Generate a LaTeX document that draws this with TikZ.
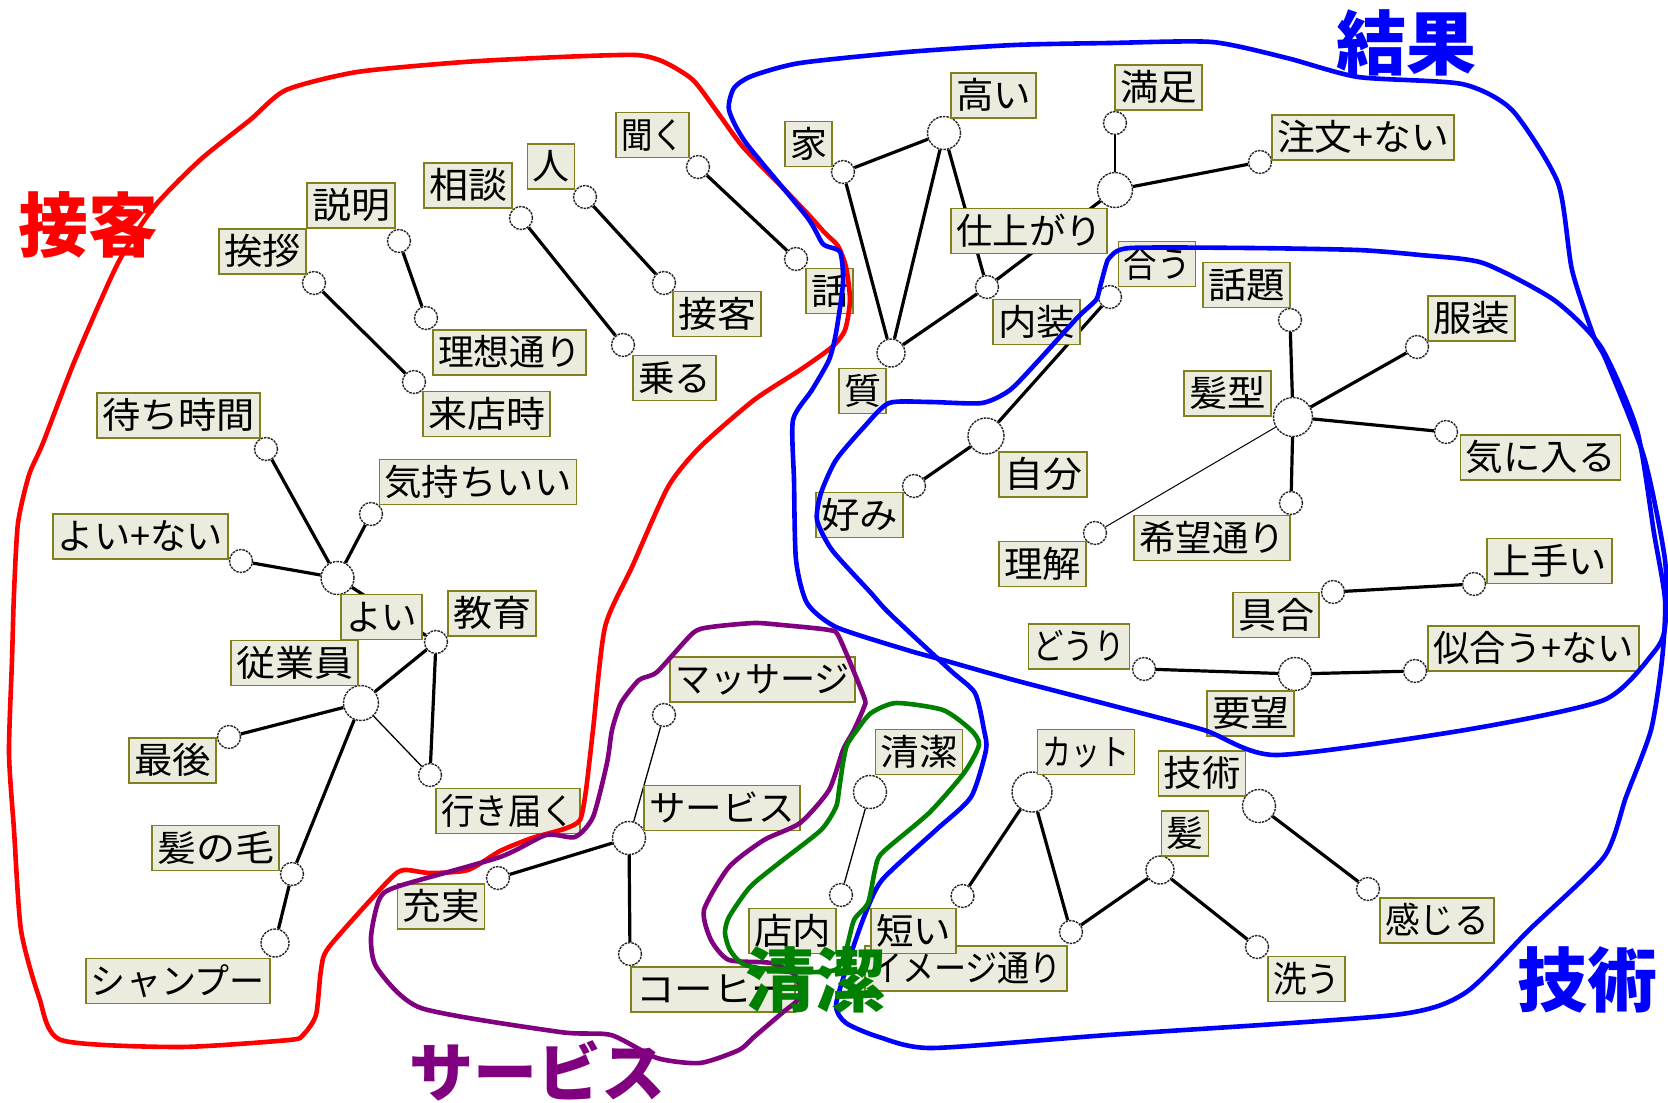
\documentclass[tikz,border=0pt]{standalone}
\usepackage{fontspec}
\usepackage{graphicx}
\newfontfamily\cjk{Noto Sans CJK JP}
\definecolor{labfill}{RGB}{236,236,222}
\definecolor{labborder}{RGB}{128,128,32}
\definecolor{regred}{RGB}{255,0,0}
\definecolor{regblue}{RGB}{0,0,255}
\definecolor{regpurple}{RGB}{128,0,128}
\definecolor{reggreen}{RGB}{0,128,0}
\newcommand\ft[2]{\resizebox{#1pt}{\height}{#2}}
\tikzset{
  lab/.style={draw=labborder, fill=labfill, line width=1.8pt, inner xsep=5pt, inner ysep=4.5pt,
    text height=31pt, text depth=5pt, font=\cjk\fontsize{36}{36}\selectfont},
  sn/.style={circle, draw=black!85, fill=white, line width=1.4pt, dash pattern=on 2.5pt off 1pt,
    minimum size=23pt, inner sep=0pt},
  hub/.style={sn, minimum size=#1},
  ed/.style={line width=3.2pt, black},
  thinedge/.style={line width=1.3pt, black},
  region/.style={line width=4.6pt, line join=round},
  big/.style={font=\cjk\bfseries\fontsize{70}{70}\selectfont, inner sep=0pt},
}
\begin{document}
\begin{tikzpicture}[x=1pt, y=-1pt]
\useasboundingbox (0,0) rectangle (1668,1103);
\fill[white] (0,0) rectangle (1668,1103);

% ---------- circles ----------
\node[sn] (cSetsumei) at (399,241) {};
\node[sn] (cRisou) at (426,318) {};
\node[sn] (cAisatsu) at (314,283) {};
\node[sn] (cRaiten) at (414,382) {};
\node[sn] (cSoudan) at (521,218) {};
\node[sn] (cNoru) at (623,345) {};
\node[sn] (cHito) at (585,197) {};
\node[sn] (cSekkyaku) at (664,283) {};
\node[sn] (cKiku) at (698,167) {};
\node[sn] (cHanashi) at (796,259) {};
\node[sn] (cIe) at (843,172) {};
\node[sn] (cNaisou) at (987,287) {};
\node[sn] (cManzoku) at (1115,123) {};
\node[sn] (cChuumon) at (1260,162) {};
\node[sn] (cAu) at (1110,297) {};
\node[sn] (cKonomi) at (914,486) {};
\node[sn] (cWadai) at (1290,320) {};
\node[sn] (cFukusou) at (1417,347) {};
\node[sn] (cKiniiru) at (1446,432) {};
\node[sn] (cKibou) at (1291,503) {};
\node[sn] (cRikai) at (1095,533) {};
\node[sn] (cGuai) at (1333,592) {};
\node[sn] (cJouzu) at (1474,584) {};
\node[sn] (cDouri) at (1144,669) {};
\node[sn] (cNiau) at (1415,671) {};
\node[sn] (cMachi) at (266,449) {};
\node[sn] (cKimochi) at (371,514) {};
\node[sn] (cYoinai) at (241,561) {};
\node[sn] (cKyouiku) at (436,642) {};
\node[sn] (cSaigo) at (229,737) {};
\node[sn] (cIkitodoku) at (430,775) {};
\node[sn] (cKaminoke) at (292,874) {};
\node[sn] (cJuujitsu) at (498,878) {};
\node[sn] (cMassage) at (664,715) {};
\node[sn] (cCoffee) at (630,954) {};
\node[sn] (cTennai) at (841,895) {};
\node[sn] (cMijikai) at (962.5,896) {};
\node[sn] (cImage) at (1071,932) {};
\node[sn] (cKanjiru) at (1368,889) {};
\node[sn] (cArau) at (1257,947) {};

\node[hub=33pt] (hTakai) at (944,133) {};
\node[hub=28pt] (hShitsu) at (891,353) {};
\node[hub=35pt] (hShiagari) at (1115,190) {};
\node[hub=36pt] (hJibun) at (986,436) {};
\node[hub=39pt] (hKamigata) at (1293,417) {};
\node[hub=33pt] (hYoubou) at (1295,674) {};
\node[hub=33pt] (hYoi) at (337.5,578) {};
\node[hub=35pt] (hJuugyouin) at (361,703) {};
\node[hub=28pt] (hShampoo) at (275,943) {};
\node[hub=33pt] (hService) at (629,838) {};
\node[hub=33pt] (hSeiketsu) at (870,792) {};
\node[hub=40pt] (hCut) at (1032,792) {};
\node[hub=33pt] (hGijutsu) at (1259,806) {};
\node[hub=28pt] (hKami) at (1160,870) {};

% ---------- edges ----------
\draw[ed] (cSetsumei) -- (cRisou);
\draw[ed] (cAisatsu) -- (cRaiten);
\draw[ed] (cSoudan) -- (cNoru);
\draw[ed] (cHito) -- (cSekkyaku);
\draw[ed] (cKiku) -- (cHanashi);
\draw[ed] (cIe) -- (hTakai);
\draw[ed] (cIe) -- (hShitsu);
\draw[ed] (hTakai) -- (hShitsu);
\draw[ed] (hTakai) -- (cNaisou);
\draw[ed] (hShitsu) -- (cNaisou);
\draw[ed] (cNaisou) -- (hShiagari);
\draw[thinedge] (cManzoku) -- (hShiagari);
\draw[ed] (hShiagari) -- (cChuumon);
\draw[ed] (cAu) -- (hJibun);
\draw[ed] (hJibun) -- (cKonomi);
\draw[ed] (cWadai) -- (hKamigata);
\draw[ed] (hKamigata) -- (cFukusou);
\draw[ed] (hKamigata) -- (cKiniiru);
\draw[ed] (hKamigata) -- (cKibou);
\draw[thinedge, line width=1pt] (hKamigata) -- (cRikai);
\draw[ed] (cGuai) -- (cJouzu);
\draw[ed] (cDouri) -- (hYoubou);
\draw[ed] (hYoubou) -- (cNiau);
\draw[ed] (cMachi) -- (hYoi);
\draw[ed] (cKimochi) -- (hYoi);
\draw[ed] (cYoinai) -- (hYoi);
\draw[ed] (hYoi) -- (cKyouiku);
\draw[ed] (cKyouiku) -- (hJuugyouin);
\draw[ed] (cKyouiku) -- (cIkitodoku);
\draw[thinedge] (hJuugyouin) -- (cIkitodoku);
\draw[ed] (cSaigo) -- (hJuugyouin);
\draw[ed] (hJuugyouin) -- (cKaminoke);
\draw[ed] (cKaminoke) -- (hShampoo);
\draw[ed] (cJuujitsu) -- (hService);
\draw[thinedge] (cMassage) -- (hService);
\draw[ed] (hService) -- (cCoffee);
\draw[thinedge] (hSeiketsu) -- (cTennai);
\draw[ed] (hCut) -- (cMijikai);
\draw[ed] (hCut) -- (cImage);
\draw[ed] (cImage) -- (hKami);
\draw[ed] (hKami) -- (cArau);
\draw[ed] (hGijutsu) -- (cKanjiru);

% ---------- labels ----------
\node[lab] (lSetsumei) at (351,205.5) {\ft{78}{説明}};
\node[lab] (lAisatsu) at (262.5,251.5) {\ft{77}{挨拶}};
\node[lab] (lSoudan) at (468,185.5) {\ft{78}{相談}};
\node[lab] (lHito) at (551,166.5) {\ft{37}{人}};
\node[lab] (lKiku) at (652.5,135) {\ft{63}{聞く}};
\node[lab] (lHanashi) at (829.5,291) {\ft{37}{話}};
\node[lab] (lSekkyaku) at (717,314) {\ft{78}{接客}};
\node[lab] (lNoru) at (674.5,378) {\ft{73}{乗る}};
\node[lab] (lRisou) at (509.5,352.5) {\ft{143}{理想通り}};
\node[lab] (lRaiten) at (486.5,414) {\ft{117}{来店時}};
\node[lab] (lMachi) at (178.5,415.5) {\ft{153}{待ち時間}};
\node[lab] (lKimochi) at (478,482) {\ft{187}{気持ちいい}};
\node[lab] (lYoinai) at (140.5,536.5) {\ft{165}{よい+ない}};
\node[lab] (lYoi) at (381.5,617) {\ft{71}{よい}};
\node[lab] (lKyouiku) at (492,613.5) {\ft{78}{教育}};
\node[lab] (lJuugyouin) at (294.5,663) {\ft{117}{従業員}};
\node[lab] (lSaigo) at (172.5,760.5) {\ft{77}{最後}};
\node[lab] (lIkitodoku) at (508,811) {\ft{134}{行き届く}};
\node[lab] (lKaminoke) at (215.5,848) {\ft{117}{髪の毛}};
\node[lab] (lShampoo) at (178,981) {\ft{174}{シャンプー}};
\node[lab] (lJuujitsu) at (441,906.5) {\ft{77}{充実}};
\node[lab] (lService) at (722,808) {\ft{146}{サービス}};
\node[lab] (lMassage) at (762.5,679.5) {\ft{175}{マッサージ}};
\node[lab] (lCoffee) at (713,989.5) {\ft{154}{コーヒー}};
\node[lab] (lSeiketsu) at (919,752) {\ft{77}{清潔}};
\node[lab] (lImage) at (966,968.5) {\ft{192}{イメージ通り}};
\node[lab] (lTennai) at (792.5,931) {\ft{77}{店内}};
\node[lab] (lMijikai) at (913.5,931) {\ft{75}{短い}};
\node[lab] (lCut) at (1086,752) {\ft{87}{カット}};
\node[lab] (lGijutsu) at (1202,773.5) {\ft{77}{技術}};
\node[lab] (lKami) at (1185,833.5) {\ft{37}{髪}};
\node[lab] (lKanjiru) at (1437,920.5) {\ft{104}{感じる}};
\node[lab] (lArau) at (1306.5,979) {\ft{67}{洗う}};
\node[lab] (lIe) at (808.5,144) {\ft{37}{家}};
\node[lab] (lTakai) at (993.5,95.5) {\ft{75}{高い}};
\node[lab] (lManzoku) at (1158.5,87.5) {\ft{77}{満足}};
\node[lab] (lChuumon) at (1363,137.5) {\ft{172}{注文+ない}};
\node[lab] (lShiagari) at (1029,231) {\ft{146}{仕上がり}};
\node[lab] (lNaisou) at (1036.5,322) {\ft{77}{内装}};
\node[lab] (lShitsu) at (862.5,391) {\ft{37}{質}};
\node[lab] (lAu) at (1157,264) {\ft{67}{合う}};
\node[lab] (lWadai) at (1246.5,285) {\ft{77}{話題}};
\node[lab] (lFukusou) at (1471.5,318.5) {\ft{77}{服装}};
\node[lab] (lKamigata) at (1227.5,393.5) {\ft{77}{髪型}};
\node[lab] (lKiniiru) at (1540.5,457.5) {\ft{150}{気に入る}};
\node[lab] (lKibou) at (1212,538) {\ft{146}{希望通り}};
\node[lab] (lRikai) at (1042.5,564) {\ft{77}{理解}};
\node[lab] (lJibun) at (1043,474.5) {\ft{78}{自分}};
\node[lab] (lKonomi) at (859.5,515) {\ft{77}{好み}};
\node[lab] (lGuai) at (1276,615) {\ft{76}{具合}};
\node[lab] (lJouzu) at (1549.5,561) {\ft{115}{上手い}};
\node[lab] (lDouri) at (1079,646.5) {\ft{91}{どうり}};
\node[lab] (lYoubou) at (1250.5,713.5) {\ft{77}{要望}};
\node[lab] (lNiau) at (1533.5,648.5) {\ft{201}{似合う+ない}};

% ---------- region outlines ----------
\draw[region, regred] plot[smooth cycle, tension=0.4] coordinates {
 (61,1040) (39,997) (21,930) (14,830) (9,753) (12,660) (14,593) (18,523) (29,475) (43,443)
 (75,360) (118,263) (154,207) (200,160) (250,120) (286,90) (357,72) (464,62) (560,57)
 (636,55) (664,62) (693,80) (718,113) (743,147) (782,187) (807,213) (825,233) (838,246)
 (846,267) (850,300) (845,330) (832,347) (800,370) (754,400) (700,447) (668,487) (632,567)
 (605,627) (593,730) (586,790) (580,820) (564,829) (532,838) (500,851) (468,870) (430,873)
 (404,870) (389,880) (329,947) (321,970) (316,1015) (303,1035) (289,1040) (179,1047)};

\draw[region, regblue] plot[smooth cycle, tension=0.4] coordinates {
 (729,110) (734,88) (752,76) (800,63) (907,52) (1014,45) (1110,43) (1212,42) (1287,58)
 (1358,77) (1462,84) (1512,110) (1558,183) (1572,270) (1594,337) (1606,360) (1644,457)
 (1665,560) (1665,627) (1654,652) (1604,700) (1465,730) (1276,755) (1204,730) (1110,705)
 (1014,680) (943,660) (907,650) (836,627) (807,603) (796,560) (794,480) (793,420)
 (812,390) (829,360) (836,333) (843,283) (840,252) (823,244) (807,217) (746,143)};

\draw[region, regblue] plot[smooth cycle, tension=0.4] coordinates {
 (1110,257) (1130,248) (1250,248) (1358,250) (1420,255) (1483,263) (1554,300) (1601,347)
 (1637,430) (1654,533) (1665,600) (1662,660) (1651,730) (1626,797) (1604,857) (1529,930)
 (1465,993) (1394,1015) (1108,1035) (932,1048) (879,1037) (846,1023) (836,1005) (850,957)
 (864,917) (882,880) (936,830) (971,797) (986,750) (984,730) (975,693) (950,670) (889,613)
 (871,593) (832,550) (817,520) (821,493) (836,460) (864,427) (889,403) (930,402) (982,403)
 (1010,390) (1039,360) (1078,317) (1096,300) (1100,287) (1106,265)};

\draw[region, regpurple] plot[smooth cycle, tension=0.4] coordinates {
 (546,835) (575,837) (593,817) (607,763) (612,730) (621,703) (639,680) (657,672) (693,633)
 (711,627) (754,623) (782,625) (829,630) (839,637) (864,697) (864,707) (854,730) (843,750)
 (829,790) (800,823) (764,840) (729,867) (704,910) (711,940) (729,960) (771,963) (795,975)
 (800,997) (782,1013) (754,1037) (739,1050) (700,1063) (657,1058) (611,1035) (560,1032)
 (421,1008) (377,968) (371,937) (379,900) (396,887) (500,857)};

\draw[region, reggreen] plot[smooth cycle, tension=0.4] coordinates {
 (857,730) (871,713) (896,703) (943,710) (971,730) (979,745) (964,773) (929,813) (882,853)
 (875,870) (868,903) (854,920) (846,950) (835,970) (790,972) (745,965) (730,950) (725,933)
 (729,917) (750,887) (779,863) (821,830) (836,807) (839,790) (843,763) (847,745)};

% ---------- category titles ----------
\node[big, text=regred] (tSekkyaku) at (89,225) {接客};
\node[big, text=regblue] (tKekka) at (1406,43) {結果};
\node[big, text=regblue] (tGijutsu) at (1587,980) {技術};
\node[big, text=reggreen] (tSeiketsu) at (815,980) {清潔};
\node[big, text=regpurple, font=\cjk\bfseries\fontsize{64}{64}\selectfont] (tService) at (537,1071) {サービス};
\end{tikzpicture}
\end{document}
